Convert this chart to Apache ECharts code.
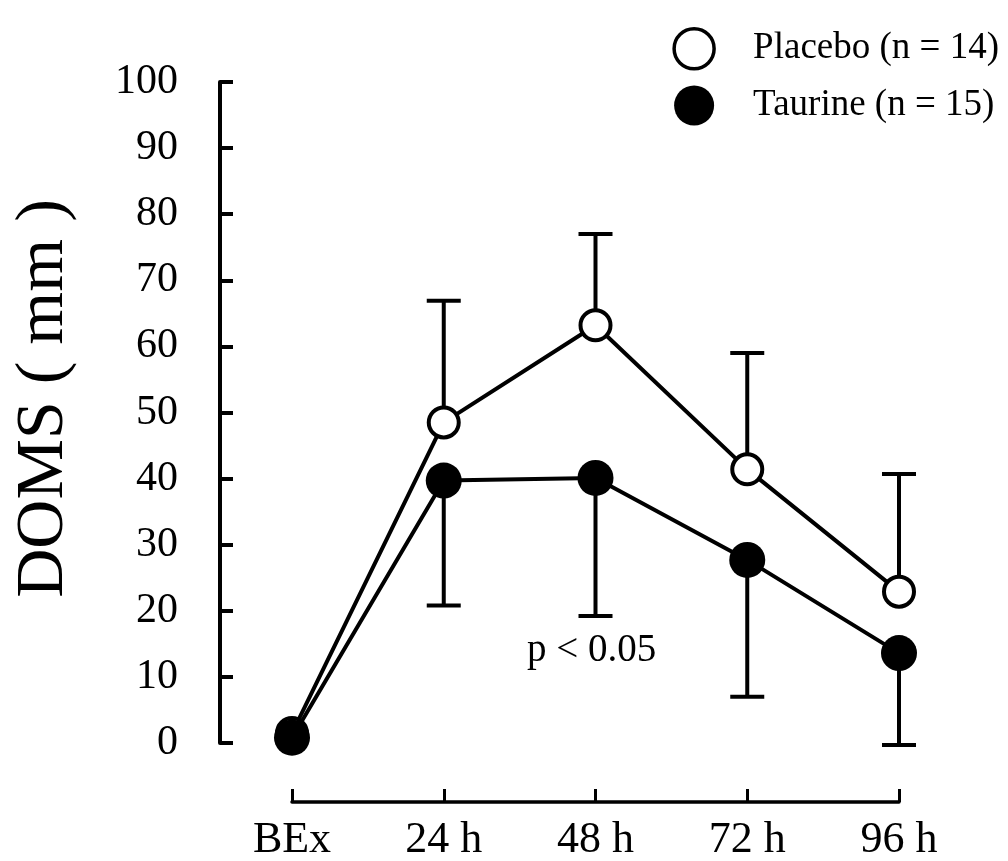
<!DOCTYPE html>
<html>
<head>
<meta charset="utf-8">
<script src="https://cdn.jsdelivr.net/npm/echarts@6/dist/echarts.min.js"></script>
<style>
  html, body { margin: 0; padding: 0; background: #fff; }
  #chart { width: 1008px; height: 861px; }
</style>
</head>
<body>
<div id="chart"></div>
<script>
// time points
const categories = ["BEx", "24 h", "48 h", "72 h", "96 h"];
// means
const placebo = [1.5, 48.5, 63.2, 41.4, 22.9];
const taurine = [0.8, 39.7, 40.1, 27.7, 13.6];
// error bar ends (placebo up, taurine down)
const placeboErr = [null, 66.9, 77.0, 59.0, 40.7];
const taurineErr = [null, 20.8, 19.2, 7.0, -0.3];
const yTicks = { min: 0, max: 100, interval: 10 };

const FONT = "Liberation Serif";

function errData(means, ends) {
  const out = [];
  means.forEach((m, i) => {
    if (ends[i] != null) out.push([i, m, ends[i]]);
  });
  return out;
}

function renderErr(params, api) {
  const p = api.coord([api.value(0), api.value(1)]);
  const e = api.coord([api.value(0), api.value(2)]);
  const half = 17;
  const style = { stroke: "#000", lineWidth: 4 };
  return {
    type: "group",
    children: [
      { type: "line", shape: { x1: p[0], y1: p[1], x2: e[0], y2: e[1] }, style },
      { type: "line", shape: { x1: e[0] - half, y1: e[1], x2: e[0] + half, y2: e[1] }, style }
    ]
  };
}

const chart = echarts.init(document.getElementById("chart"));

chart.setOption({
  animation: false,
  backgroundColor: "#fff",
  grid: { left: 292, right: 109, top: 82, bottom: 118, containLabel: false, outerBoundsMode: "none" },
  legend: {
    right: 4,
    top: 22,
    orient: "vertical",
    itemWidth: 40,
    itemHeight: 40,
    itemGap: 15,
    textStyle: { fontFamily: FONT, fontSize: 37, color: "#000", padding: [0, 0, 0, 34] },
    data: [
      { name: "Placebo (n = 14)", icon: "circle", itemStyle: { color: "#fff", borderColor: "#000", borderWidth: 3.5 } },
      { name: "Taurine (n = 15)", icon: "circle", itemStyle: { color: "#000", borderWidth: 0 } }
    ]
  },
  xAxis: {
    type: "category",
    data: categories,
    boundaryGap: false,
    offset: 59,
    axisLine: { onZero: false, lineStyle: { color: "#000", width: 3.5 } },
    axisTick: { inside: true, length: 13, lineStyle: { color: "#000", width: 3 } },
    axisLabel: { margin: 16, fontFamily: FONT, fontSize: 44, color: "#000" },
    splitLine: { show: false }
  },
  yAxis: {
    type: "value",
    min: yTicks.min,
    max: yTicks.max,
    interval: yTicks.interval,
    offset: 72,
    name: "DOMS ( mm )",
    nameLocation: "middle",
    nameGap: 142,
    nameTextStyle: { fontFamily: FONT, fontSize: 68, color: "#000", padding: [0, 0, 0, 28] },
    axisLine: { show: true, lineStyle: { color: "#000", width: 4 } },
    axisTick: { show: true, inside: true, length: 13, lineStyle: { color: "#000", width: 4 } },
    axisLabel: { margin: 42, fontFamily: FONT, fontSize: 42, color: "#000" },
    splitLine: { show: false }
  },
  graphic: [
    {
      type: "text",
      left: 527,
      top: 631,
      style: { text: "p < 0.05", font: "39px '" + FONT + "'", fill: "#000" }
    }
  ],
  series: [
    {
      type: "custom",
      name: "placeboErr",
      renderItem: renderErr,
      data: errData(placebo, placeboErr),
      clip: false,
      z: 1,
      silent: true
    },
    {
      type: "custom",
      name: "taurineErr",
      renderItem: renderErr,
      data: errData(taurine, taurineErr),
      clip: false,
      z: 1,
      silent: true
    },
    {
      type: "line",
      name: "Placebo (n = 14)",
      data: placebo,
      symbol: "circle",
      symbolSize: 30,
      showAllSymbol: true,
      lineStyle: { color: "#000", width: 4 },
      itemStyle: { color: "#fff", borderColor: "#000", borderWidth: 4 },
      z: 2
    },
    {
      type: "line",
      name: "Taurine (n = 15)",
      data: taurine,
      symbol: "circle",
      symbolSize: 36,
      showAllSymbol: true,
      lineStyle: { color: "#000", width: 4 },
      itemStyle: { color: "#000", borderWidth: 0 },
      z: 3
    }
  ]
});
</script>
</body>
</html>
